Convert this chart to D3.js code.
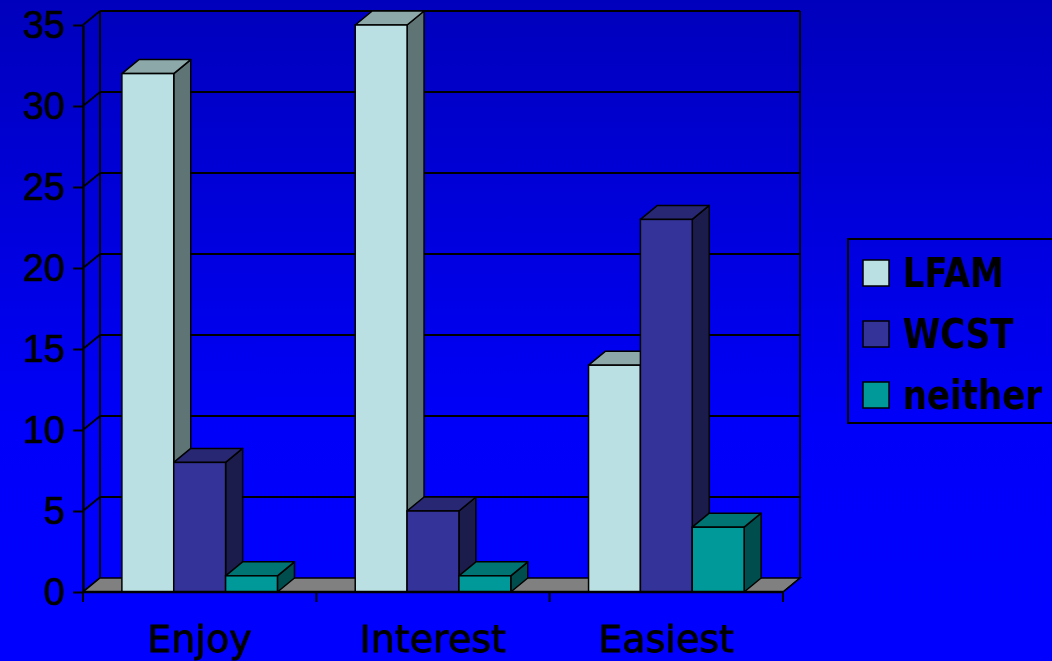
<!DOCTYPE html>
<html>
<head>
<meta charset="utf-8">
<script src="https://cdn.jsdelivr.net/npm/d3@7"></script>
<style>
  html, body { margin: 0; padding: 0; background: #0000E0; overflow: hidden; }
  svg { display: block; }
</style>
</head>
<body>
<svg id="chart" width="1052" height="661"></svg>
<script>
const categories = ["Enjoy", "Interest", "Easiest"];
const seriesNames = ["LFAM", "WCST", "neither"];
const lfamValues = [32, 35, 14];
const wcstValues = [8, 5, 23];
const neitherValues = [1, 1, 4];
const yTicks = [0, 5, 10, 15, 20, 25, 30, 35];

const seriesValues = [lfamValues, wcstValues, neitherValues];
const colors = {
  LFAM:    { front: "#BBE0E3", top: "#8CA8A9", side: "#5F7475" },
  WCST:    { front: "#333399", top: "#272773", side: "#1C1C4C" },
  neither: { front: "#009999", top: "#007373", side: "#004D4D" }
};

const W = 1052, H = 661;
const svg = d3.select("#chart");
const DX = 17, DY = -14;
const left = 83, right = 783, y0px = 592, yTopPx = 25;

// background gradient
const defs = svg.append("defs");
const grad = defs.append("linearGradient").attr("id", "bg").attr("x1", 0).attr("y1", 0).attr("x2", 0).attr("y2", 1);
grad.append("stop").attr("offset", "0%").attr("stop-color", "#0000BC");
grad.append("stop").attr("offset", "65%").attr("stop-color", "#0000FA");
grad.append("stop").attr("offset", "100%").attr("stop-color", "#0000FF");
svg.append("rect").attr("width", W).attr("height", H).attr("fill", "url(#bg)");

const y = d3.scaleLinear().domain([0, 35]).range([y0px, yTopPx]);
const x0 = d3.scaleBand().domain(categories).range([left, right]).paddingInner(0).paddingOuter(0);
const x1 = d3.scaleBand().domain(seriesNames).range([0, x0.bandwidth()]).paddingInner(0).paddingOuter(0.75);

const g = svg.append("g");

// back wall gridlines and left wall diagonals
yTicks.forEach(t => {
  const yy = y(t);
  if (t > 0) {
    g.append("line").attr("x1", left + DX).attr("x2", right + DX)
      .attr("y1", yy + DY).attr("y2", yy + DY)
      .attr("stroke", "#000").attr("stroke-width", 2);
  }
  g.append("line").attr("x1", left).attr("y1", yy).attr("x2", left + DX).attr("y2", yy + DY)
    .attr("stroke", "#000").attr("stroke-width", 2);
});
// back wall verticals
[left + DX, right + DX].forEach(xx => {
  g.append("line").attr("x1", xx).attr("x2", xx).attr("y1", y(35) + DY).attr("y2", y(0) + DY)
    .attr("stroke", "#000").attr("stroke-width", 2);
});

// floor
g.append("polygon")
  .attr("points", [[left, y0px], [right, y0px], [right + DX, y0px + DY], [left + DX, y0px + DY]].map(p => p.join(",")).join(" "))
  .attr("fill", "#808080").attr("stroke", "#000").attr("stroke-width", 1.5);

// bars
categories.forEach((c, ci) => {
  seriesNames.forEach((s, si) => {
    const v = seriesValues[si][ci];
    const bx = x0(c) + x1(s);
    const bw = x1.bandwidth();
    const yt = y(v), yb = y(0);
    const col = colors[s];
    const bg = g.append("g");
    bg.append("polygon")
      .attr("points", [[bx + bw, yt], [bx + bw + DX, yt + DY], [bx + bw + DX, yb + DY], [bx + bw, yb]].map(p => p.join(",")).join(" "))
      .attr("fill", col.side).attr("stroke", "#000").attr("stroke-width", 1.5).attr("stroke-linejoin", "round");
    bg.append("polygon")
      .attr("points", [[bx, yt], [bx + DX, yt + DY], [bx + bw + DX, yt + DY], [bx + bw, yt]].map(p => p.join(",")).join(" "))
      .attr("fill", col.top).attr("stroke", "#000").attr("stroke-width", 1.5).attr("stroke-linejoin", "round");
    bg.append("rect").attr("x", bx).attr("y", yt).attr("width", bw).attr("height", yb - yt)
      .attr("fill", col.front).attr("stroke", "#000").attr("stroke-width", 1.5);
  });
});

// front floor edge
g.append("line").attr("x1", left).attr("x2", right).attr("y1", y0px).attr("y2", y0px)
  .attr("stroke", "#000").attr("stroke-width", 2.5);
g.append("line").attr("x1", right).attr("x2", right + DX).attr("y1", y0px).attr("y2", y0px + DY)
  .attr("stroke", "#000").attr("stroke-width", 1.5);

// y axis
const yAxis = d3.axisLeft(y).tickValues(yTicks).tickSize(10).tickSizeOuter(0).tickPadding(8).tickFormat(d3.format("d"));
const ya = svg.append("g").attr("transform", `translate(${left},0)`).call(yAxis);
ya.select(".domain").attr("stroke", "#000").attr("stroke-width", 2.5);
ya.selectAll(".tick line").attr("stroke", "#000").attr("stroke-width", 2);
ya.selectAll(".tick text").attr("fill", "#000").attr("stroke", "#000").attr("stroke-width", 0.7)
  .style("font-family", "'Liberation Sans', Arial, sans-serif").style("font-size", "38px");

// x axis
const xAxis = d3.axisBottom(x0).tickSize(0).tickPadding(0);
const xa = svg.append("g").attr("transform", `translate(0,${y0px})`).call(xAxis);
xa.select(".domain").remove();
xa.selectAll(".tick text").attr("fill", "#000").attr("stroke", "#000").attr("stroke-width", 0.8)
  .attr("dy", null).attr("y", 60)
  .style("font-family", "'DejaVu Sans', Verdana, sans-serif").style("font-size", "38px");
// category boundary ticks
const bounds = categories.map(c => x0(c)).concat([x0.range()[1]]);
bounds.forEach(bx => {
  svg.append("line").attr("x1", bx).attr("x2", bx).attr("y1", y0px).attr("y2", y0px + 10)
    .attr("stroke", "#000").attr("stroke-width", 2);
});

// legend
const lg = svg.append("g");
lg.append("rect").attr("x", 848).attr("y", 239).attr("width", 220).attr("height", 184)
  .attr("fill", "none").attr("stroke", "#000").attr("stroke-width", 2);
seriesNames.forEach((s, i) => {
  const yy = 260 + i * 61;
  lg.append("rect").attr("x", 863).attr("y", yy).attr("width", 26).attr("height", 26)
    .attr("fill", colors[s].front).attr("stroke", "#000").attr("stroke-width", 1.5);
  lg.append("text").attr("transform", `translate(903,${yy + 27}) scale(0.83,1)`).text(s)
    .attr("fill", "#000")
    .style("font-family", "'DejaVu Sans', Verdana, sans-serif").style("font-weight", "bold").style("font-size", "41px");
});
</script>
</body>
</html>
